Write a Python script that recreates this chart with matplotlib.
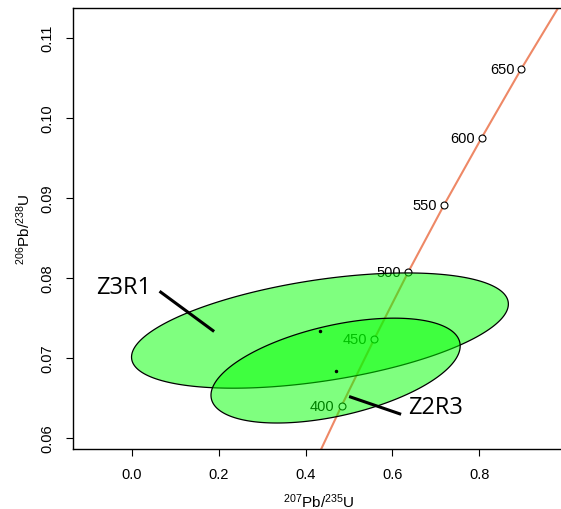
import numpy as np
import matplotlib
matplotlib.use('Agg')
import matplotlib.pyplot as plt

plt.rcParams['font.family'] = ['Liberation Sans', 'DejaVu Sans']
plt.rcParams['mathtext.default'] = 'regular'

# concordia age markers (Ma) and their ratios
ages = [400, 450, 500, 550, 600, 650]
age_x = [0.4828, 0.5577, 0.6362, 0.7189, 0.8056, 0.8968]
age_y = [0.0640, 0.0723, 0.0807, 0.0891, 0.0975, 0.1061]

# concordia line, 350..700 Ma
line_x = [0.4116, 0.4828, 0.5577, 0.6362, 0.7189, 0.8056, 0.8968, 0.9926]
line_y = [0.0558, 0.0640, 0.0723, 0.0807, 0.0891, 0.0975, 0.1061, 0.1147]

# error ellipses: centre, half extents, correlation
names = ['Z3R1', 'Z2R3']
cx = [0.433, 0.469]
cy = [0.0734, 0.0684]
hx = [0.434, 0.287]
hy = [0.0072, 0.00655]
rho = [0.46, 0.47]

# sample labels and leader lines
lab_x = [-0.018, 0.700]
lab_y = [0.0789, 0.0639]
lead_x0 = [0.0663, 0.5035]
lead_y0 = [0.0782, 0.0651]
lead_x1 = [0.1864, 0.6166]
lead_y1 = [0.0734, 0.0630]

fig = plt.figure(figsize=(5.61, 5.10), dpi=100)
# axes run past the right edge of the figure (the original is cropped there)
ax = fig.add_axes([0.130, 0.1176, 0.900, 0.8647])

ax.plot(line_x, line_y, color='#EE8866', lw=1.5, zorder=1)
ax.plot(age_x, age_y, 'o', ms=5, mfc='white', mec='black', mew=0.8, zorder=2)
for a, x, y in zip(ages, age_x, age_y):
    ax.annotate(str(a), (x, y), xytext=(-5, 0), textcoords='offset points',
                ha='right', va='center', fontsize=10.5, zorder=2)

t = np.linspace(0, 2 * np.pi, 300)
for i in range(len(names)):
    c = rho[i] * hx[i] * hy[i]
    cov = np.array([[hx[i] ** 2, c], [c, hy[i] ** 2]])
    L = np.linalg.cholesky(cov)
    pts = L @ np.vstack([np.cos(t), np.sin(t)])
    ax.fill(cx[i] + pts[0], cy[i] + pts[1], facecolor=(0, 1, 0, 0.5),
            edgecolor='black', lw=0.9, zorder=3)
    ax.plot(cx[i], cy[i], 'o', ms=1.5, color='black', zorder=4)
    ax.plot([lead_x0[i], lead_x1[i]], [lead_y0[i], lead_y1[i]], color='black', lw=2.2, zorder=5)
    ax.text(lab_x[i], lab_y[i], names[i], family='Open Sans', fontsize=17,
            ha='center', va='center', zorder=5)

ax.set_xlim(-0.136, 1.027)
ax.set_ylim(0.0586, 0.1137)
ax.set_xticks([0.0, 0.2, 0.4, 0.6, 0.8])
ax.set_xticklabels(['0.0', '0.2', '0.4', '0.6', '0.8'])
ax.set_yticks([0.06, 0.07, 0.08, 0.09, 0.10, 0.11])
ax.set_yticklabels(['0.06', '0.07', '0.08', '0.09', '0.10', '0.11'], rotation=90, va='center')
ax.tick_params(direction='out', length=5, width=0.8, labelsize=10.5, pad=8)
for s in ax.spines.values():
    s.set_linewidth(1.0)
ax.spines['right'].set_visible(False)

ax.set_xlabel(r'$^{207}$Pb/$^{235}$U', fontsize=11, labelpad=4)
ax.xaxis.set_label_coords(246 / 505, -0.095)
ax.set_ylabel(r'$^{206}$Pb/$^{238}$U', fontsize=11, labelpad=6)

fig.savefig('out.png', dpi=100)
